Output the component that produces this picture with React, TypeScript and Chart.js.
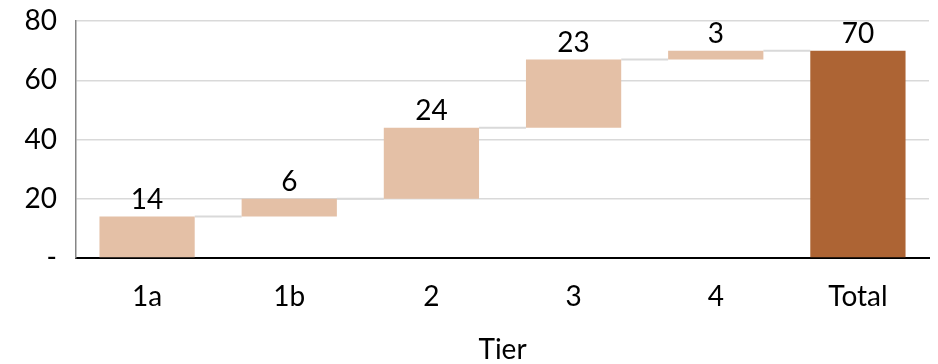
import React, { useEffect, useRef } from "react";
import { Chart, registerables } from "chart.js";

Chart.register(...registerables);

const categories = ["1a", "1b", "2", "3", "4", "Total"];
const increments = [14, 6, 24, 23, 3];
const totalValue = 70;
const yTicks = [0, 20, 40, 60, 80];
const xTitle = "Tier";

const LIGHT = "#e4c0a6";
const DARK = "#ad6434";
const FONT = "Lato";
const FS = 28;

export default function App() {
  const ref = useRef<HTMLCanvasElement | null>(null);

  useEffect(() => {
    document.body.style.margin = "0";
    const canvas = ref.current;
    if (!canvas) return;

    const floating: [number, number][] = [];
    const ends: number[] = [];
    let run = 0;
    increments.forEach((v) => {
      floating.push([run, run + v]);
      run += v;
      ends.push(run);
    });
    floating.push([0, totalValue]);
    const labelsText = [...increments.map(String), String(totalValue)];

    const connectorPlugin = {
      id: "connectors",
      beforeDatasetsDraw(chart: any) {
        const meta = chart.getDatasetMeta(0);
        const y = chart.scales.y;
        const ctx = chart.ctx;
        ctx.save();
        ctx.strokeStyle = "#d9d9d9";
        ctx.lineWidth = 2;
        for (let i = 0; i < ends.length; i++) {
          const a = meta.data[i];
          const b = meta.data[i + 1];
          if (!a || !b) continue;
          const yy = y.getPixelForValue(ends[i]);
          ctx.beginPath();
          ctx.moveTo(a.x + a.width / 2, yy);
          ctx.lineTo(b.x - b.width / 2, yy);
          ctx.stroke();
        }
        ctx.restore();
      },
    };

    const labelPlugin = {
      id: "valueLabels",
      afterDatasetsDraw(chart: any) {
        const meta = chart.getDatasetMeta(0);
        const ctx = chart.ctx;
        ctx.save();
        ctx.fillStyle = "#000";
        ctx.font = `${FS}px ${FONT}`;
        ctx.textAlign = "center";
        ctx.textBaseline = "alphabetic";
        meta.data.forEach((el: any, i: number) => {
          const top = Math.min(el.y, el.base);
          ctx.fillText(labelsText[i], el.x, top - 8);
        });
        ctx.restore();
      },
    };

    const chart = new Chart(canvas, {
      type: "bar",
      data: {
        labels: categories,
        datasets: [
          {
            data: floating as any,
            backgroundColor: categories.map((_, i) => (i === categories.length - 1 ? DARK : LIGHT)),
            borderWidth: 0,
            barPercentage: 0.67,
            categoryPercentage: 1,
          },
        ],
      },
      options: {
        responsive: false,
        animation: false,
        layout: { padding: { top: 21, right: 9, left: 0, bottom: 0 } },
        plugins: {
          legend: { display: false },
          tooltip: { enabled: false },
        },
        scales: {
          x: {
            grid: { display: false, drawTicks: false },
            border: { display: true, color: "#000", width: 2 },
            ticks: {
              color: "#000",
              font: { family: FONT, size: FS },
              padding: 22,
              maxRotation: 0,
              autoSkip: false,
            },
            title: {
              display: true,
              text: xTitle,
              color: "#000",
              font: { family: FONT, size: FS, lineHeight: 1.0 },
              padding: { top: 0, bottom: 0 },
            },
            afterFit(scale: any) {
              scale.height = 106;
              scale.paddingLeft = 0;
              scale.paddingRight = 0;
            },
          },
          y: {
            min: 0,
            max: 80,
            grace: 0,
            afterBuildTicks(scale: any) {
              scale.ticks = yTicks.map((v) => ({ value: v }));
            },
            grid: { color: "#d9d9d9", lineWidth: 1.5, drawTicks: false },
            border: { display: true, color: "#868686", width: 1.5 },
            ticks: {
              color: "#000",
              font: { family: FONT, size: FS },
              padding: 19,
              callback: (v: any) => (Number(v) === 0 ? "-" : String(v)),
            },
            afterFit(scale: any) {
              scale.width = 76;
              scale.paddingTop = 0;
              scale.paddingBottom = 0;
            },
          },
        },
      },
      plugins: [connectorPlugin, labelPlugin],
    });

    return () => chart.destroy();
  }, []);

  return (
    <div style={{ width: 938, height: 364 }}>
      <canvas ref={ref} width={938} height={364} />
    </div>
  );
}
